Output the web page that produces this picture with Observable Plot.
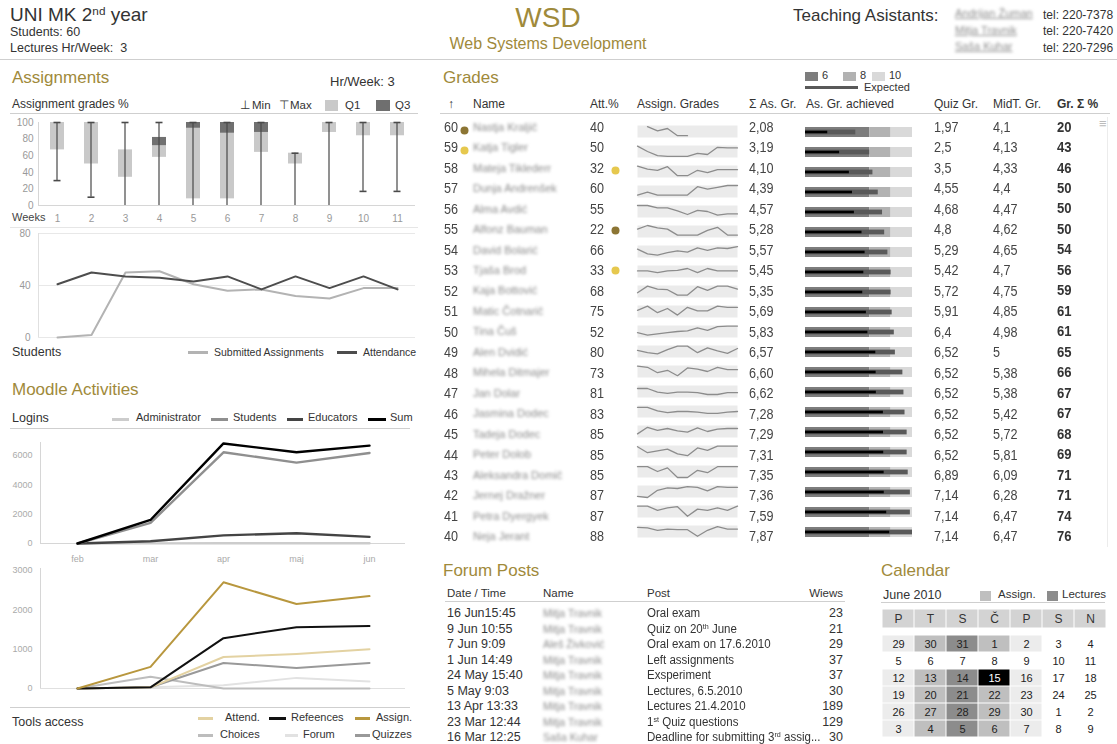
<!DOCTYPE html>
<html><head><meta charset="utf-8">
<script src="https://cdn.jsdelivr.net/npm/d3@7"></script>
<script src="https://cdn.jsdelivr.net/npm/@observablehq/plot@0.6"></script>
<style>
body{margin:0;background:#fff;}
#root{position:relative;width:1117px;height:744px;overflow:hidden;font-family:"Liberation Sans",Arial,sans-serif;color:#333;}
.a{position:absolute;white-space:nowrap;}
sup{font-size:0.62em;line-height:0;vertical-align:0.55em;}
</style></head><body><div id="root"></div><script>
// ---------------- DATA ----------------
const weeks = [1,2,3,4,5,6,7,8,9,10,11];
const q1 = [67,50,34,58,8,8,64,50,88,84,84];
const med = [100,100,67,72,93,87,88,63,100,100,100];
const q3 = [100,100,67,82,100,100,100,63,100,100,100];
const minG = [30,10,0,0,0,0,0,0,0,17,17];
const maxG = [100,100,100,100,100,100,100,63,100,100,100];
const submitted = [0,2,50,51,41,36,37,32,30,38,38];
const attendance = [41,50,47,46,43,47,37,47,38,47,37];

const months = ["feb","mar","apr","maj","jun"];
const loginAdmin = [0,10,20,20,15];
const loginStudents = [0,1400,6200,5500,6150];
const loginEducators = [0,150,550,700,450];
const loginSum = [0,1600,6800,6200,6650];
const toolAttend = [0,30,800,880,1000];
const toolRefs = [0,30,1280,1560,1590];
const toolAssign = [0,550,2700,2150,2350];
const toolChoices = [0,300,0,0,0];
const toolForum = [0,30,80,270,180];
const toolQuizzes = [0,30,650,520,650];

const ranks = [60,59,58,57,56,55,54,53,52,51,50,49,48,47,46,45,44,43,42,41,40];
const names = ["Nastja Kraljič","Katja Tigler","Mateja Tiklederr","Dunja Andrenšek","Alma Avdić","Alfonz Bauman","David Bolarić","Tjaša Brod","Kaja Bottović","Matic Čotnarič","Tina Čuš","Alen Dvidić","Mihela Ditmajer","Jan Dolar","Jasmina Dodec","Tadeja Dodec","Peter Dolob","Aleksandra Domič","Jernej Dražner","Petra Dyergyek","Neja Jerant"];
const attPct = [40,50,32,60,55,22,66,33,68,75,52,80,73,81,83,85,85,85,87,87,88];
const asSum = [2.08,3.19,4.10,4.39,4.57,5.28,5.57,5.45,5.35,5.69,5.83,6.57,6.60,6.62,7.28,7.29,7.31,7.35,7.36,7.59,7.87];
const expected = [4.7,6.0,6.3,6.8,7.2,7.4,7.7,8.0,8.0,8.1,8.3,8.4,9.1,9.2,9.3,9.5,9.5,9.6,9.8,9.8,10];
const quizGr = [1.97,2.5,3.5,4.55,4.68,4.8,5.29,5.42,5.72,5.91,6.4,6.52,6.52,6.52,6.52,6.52,6.52,6.89,7.14,7.14,7.14];
const midGr = [4.1,4.13,4.33,4.4,4.47,4.62,4.65,4.7,4.75,4.85,4.98,5,5.38,5.38,5.42,5.72,5.81,6.09,6.28,6.47,6.47];
const totalPct = [20,43,46,50,50,50,54,56,59,61,61,65,66,67,67,68,69,71,71,74,76];
const sparks = [
 [null,90,55,75,15,15],
 [95,50,15,10,10,10,35,25,85,80,80],
 [95,70,60,90,15,15,60,40,65,65,65],
 [20,45,20,20,20,20,90,70,85,100,100],
 [100,100,80,80,55,25,60,50,20,30,30],
 [70,100,80,70,20,20,20,60,85,20,20],
 [70,30,20,40,55,45,80,60,80,75,90],
 [55,55,40,55,60,75,40,75,55,55,55],
 [40,95,70,65,20,20,90,60,95,95,70],
 [60,95,40,75,20,85,55,55,95,85,85],
 [40,20,30,40,50,55,80,60,90,95,95],
 [60,40,30,65,95,95,40,80,55,35,75],
 [95,85,40,60,15,80,70,50,85,65,65],
 [75,75,45,35,45,45,40,25,25,40,40],
 [85,85,55,40,50,50,45,35,35,45,50],
 [30,85,60,75,55,45,80,50,70,75,75],
 [90,40,55,70,30,15,80,60,95,95,95],
 [90,90,50,80,0,0,60,40,90,90,90],
 [10,0,60,80,75,90,85,55,90,85,85],
 [95,95,60,80,90,10,70,60,80,60,95],
 [85,80,60,70,65,65,10,60,90,70,70]
];
const bulletBands = [{label:"6",lo:0,hi:6},{label:"8",lo:6,hi:8},{label:"10",lo:8,hi:10}];
const flagRanks = [60,59,58,55,53];
const flagPlace = ["name","name","att","att","att"];
const flagLevel = ["high","low","low","high","low"];

const forumDates = ["16 Jun15:45","9 Jun 10:55","7 Jun 9:09","1 Jun 14:49","24 May 15:40","5 May 9:03","13 Apr 13:33","23 Mar 12:44","16 Mar 12:25"];
const forumNames = ["Mitja Travnik","Mitja Travnik","Aleš Živković","Mitja Travnik","Mitja Travnik","Mitja Travnik","Mitja Travnik","Mitja Travnik","Saša Kuhar"];
const forumPosts = ["Oral exam","Quiz on 20<sup>th</sup> June","Oral exam on 17.6.2010","Left assignments","Exsperiment","Lectures, 6.5.2010","Lectures 21.4.2010","1<sup>st</sup> Quiz questions","Deadline for submitting 3<sup>rd</sup> assig..."];
const forumViews = [23,21,29,37,37,30,189,129,30];

const calHeads = ["P","T","S","Č","P","S","N"];
const calWeeks = [[29,30,31,1,2,3,4],[5,6,7,8,9,10,11],[12,13,14,15,16,17,18],[19,20,21,22,23,24,25],[26,27,28,29,30,1,2],[3,4,5,6,7,8,9]];
const calKinds = [
 ["weekday","assign","lecture","assign","weekday","free","free"],
 ["free","free","free","free","free","free","free"],
 ["weekday","assign","lecture","today","weekday","free","free"],
 ["weekday","assign","lecture","assign","weekday","free","free"],
 ["weekday","assign","lecture","assign","weekday","free","free"],
 ["weekday","assign","lecture","assign","weekday","free","free"]
];
const taNames = ["Andrijan Žuman","Mitja Travnik","Saša Kuhar"];
const taTels = ["tel: 220-7378","tel: 220-7420","tel: 220-7296"];

// ---------------- HELPERS ----------------
const root = document.getElementById("root");
const FONT = "Liberation Sans, Arial, sans-serif";
const GOLD = "#9f8a3b";
function T(html, x, cy, size, extra="") {
  const d = document.createElement("div");
  d.className = "a";
  d.style.cssText = `left:${x}px;top:${(cy - size*0.6).toFixed(1)}px;font-size:${size}px;line-height:${(size*1.2).toFixed(1)}px;${extra}`;
  d.innerHTML = html;
  root.appendChild(d);
  return d;
}
function box(x, y, w, h, color) {
  const d = document.createElement("div");
  d.className = "a";
  d.style.cssText = `left:${x}px;top:${y}px;width:${w}px;height:${h}px;background:${color};`;
  root.appendChild(d);
  return d;
}
function put(node, x, y) {
  node.style.position = "absolute";
  node.style.left = x + "px";
  node.style.top = y + "px";
  root.appendChild(node);
}
const baseStyle = {fontFamily: FONT, fontSize: "10px", color: "#999", background: "none", overflow: "visible"};
const fmt = v => String(v).replace(".", ",");
const BLUR = "filter:blur(1.6px);color:#8c8c8c;";
const NARROW = "transform:scaleX(0.9);transform-origin:0 50%;";

// ---------------- HEADER ----------------
T("UNI MK 2<sup>nd</sup> year", 10, 15, 19, "color:#333;");
T("Students: 60", 10, 32, 12.5);
T("Lectures Hr/Week:&nbsp; 3", 10, 48, 12.5);
T("WSD", 548, 18, 28, `transform:translateX(-50%);color:${GOLD};`);
T("Web Systems Development", 548, 44, 16, `transform:translateX(-50%);color:${GOLD};`);
T("Teaching Asistants:", 793, 16, 17);
taNames.forEach((n,i) => T(n, 955, 14 + i*16.5, 11, BLUR + "text-decoration:underline;"));
taTels.forEach((t,i) => T(t, 1043, 15 + i*16.5, 12));
box(0, 59, 1117, 1, "#cfcfcf");

// ---------------- ASSIGNMENTS ----------------
T("Assignments", 12, 78, 17, `color:${GOLD};`);
T("Hr/Week: 3", 330, 82, 13);
T("Assignment grades %", 12, 104, 12);
T("⊥", 240, 106, 11.5); T("Min", 252, 106, 11.5);
T("⊤", 279, 106, 11.5); T("Max", 290, 106, 11.5);
box(325, 100, 13, 11, "#c9c9c9"); T("Q1", 345, 106, 11.5);
box(376, 100, 14, 11, "#6f6f6f"); T("Q3", 395, 106, 11.5);
box(10, 113, 408, 1, "#cfcfcf");

const boxData = weeks.map((w,i) => ({w, q1:q1[i], med:med[i], q3:q3[i], min:minG[i], max:maxG[i]}));
put(Plot.plot({
  width: 420, height: 110, marginLeft: 38, marginRight: 5, marginTop: 7, marginBottom: 20,
  style: baseStyle,
  x: {type: "band", domain: weeks, padding: 0, tickSize: 0, tickPadding: 9, label: null},
  y: {domain: [0,100], ticks: [0,20,40,60,80,100], tickSize: 0, tickPadding: 5, label: null},
  marks: [
    Plot.ruleY([0], {stroke: "#d6d6d6"}),
    Plot.barY(boxData, {x: "w", y1: "q1", y2: "med", fill: "#c9c9c9", insetLeft: 10, insetRight: 10}),
    Plot.barY(boxData, {x: "w", y1: "med", y2: "q3", fill: "#707070", insetLeft: 10, insetRight: 10}),
    Plot.barY(boxData, {x: "w", y1: "min", y2: "max", fill: "#4a4a4a", insetLeft: 16.4, insetRight: 16.4}),
    Plot.tickY(boxData.filter(d => d.min > 0), {x: "w", y: "min", stroke: "#4a4a4a", strokeWidth: 1.6, insetLeft: 13.5, insetRight: 13.5}),
    Plot.tickY(boxData, {x: "w", y: "max", stroke: "#4a4a4a", strokeWidth: 1.6, insetLeft: 13.5, insetRight: 13.5})
  ]
}), 0, 115);
box(38, 122, 1, 83, "#d6d6d6");
T("Weeks", 12, 218, 11, "color:#444;");

// Students chart
const stData = weeks.flatMap((w,i) => [{w, v: submitted[i], s: "Submitted Assignments"}, {w, v: attendance[i], s: "Attendance"}]);
put(Plot.plot({
  width: 420, height: 120, marginLeft: 38, marginRight: 5, marginTop: 8, marginBottom: 8,
  style: baseStyle,
  x: {type: "point", domain: weeks, padding: 0.5, axis: null},
  y: {domain: [0,80], ticks: [0,40,80], tickSize: 0, tickPadding: 8, label: null},
  color: {domain: ["Submitted Assignments","Attendance"], range: ["#b3b3b3","#4d4d4d"]},
  marks: [
    Plot.ruleY([0,40,80], {stroke: "#e8e8e8"}),
    Plot.line(stData, {x: "w", y: "v", z: "s", stroke: "s", strokeWidth: 2})
  ]
}), 0, 225);
box(38, 233, 1, 104, "#e0e0e0");
box(10, 227, 408, 1, "#e6e6e6");
T("Students", 12, 352, 12.5);
box(188, 351, 20, 2.5, "#b3b3b3"); T("Submitted Assignments", 214, 352, 10.5);
box(337, 351, 20, 2.5, "#4d4d4d"); T("Attendance", 363, 352, 10.5);

// ---------------- MOODLE ----------------
T("Moodle Activities", 12, 390, 17, `color:${GOLD};`);
T("Logins", 12, 418, 12.5);
box(112, 418, 17, 2.5, "#cccccc"); T("Administrator", 136, 418, 11);
box(211, 418, 17, 2.5, "#8f8f8f"); T("Students", 233, 418, 11);
box(287, 418, 16, 2.5, "#444"); T("Educators", 308, 418, 11);
box(368, 418, 18, 2.5, "#000"); T("Sum", 390, 418, 11);
box(10, 428, 400, 1, "#cfcfcf");

const loginSeries = ["Administrator","Educators","Students","Sum"];
const loginVals = [loginAdmin, loginEducators, loginStudents, loginSum];
const loginData = loginSeries.flatMap((s,k) => months.map((m,i) => ({m, s, v: loginVals[k][i]})));
put(Plot.plot({
  width: 410, height: 135, marginLeft: 40, marginRight: 5, marginTop: 8, marginBottom: 24,
  style: {...baseStyle, fontSize: "9px", color: "#aaa"},
  x: {type: "point", domain: months, padding: 0.5, tickSize: 0, tickPadding: 12, label: null},
  y: {domain: [0,7000], ticks: [0,2000,4000,6000], tickFormat: "d", tickSize: 0, tickPadding: 8, label: null},
  color: {domain: loginSeries, range: ["#cccccc","#444444","#8f8f8f","#000000"]},
  marks: [
    Plot.ruleY([0], {stroke: "#d6d6d6"}),
    Plot.line(loginData, {x: "m", y: "v", z: "s", stroke: "s", strokeWidth: 2.4})
  ]
}), 0, 432);
box(40, 442, 1, 101, "#d6d6d6");

const toolSeries = ["Forum","Choices","Quizzes","Attend.","Refeences","Assign."];
const toolVals = [toolForum, toolChoices, toolQuizzes, toolAttend, toolRefs, toolAssign];
const toolData = toolSeries.flatMap((s,k) => months.map((m,i) => ({m, s, v: toolVals[k][i]})));
const toolColors = ["#e2e2e2","#bdbdbd","#999999","#e3d2a2","#111111","#b8973e"];
put(Plot.plot({
  width: 410, height: 130, marginLeft: 40, marginRight: 5, marginTop: 5, marginBottom: 7,
  style: {...baseStyle, fontSize: "9px", color: "#aaa"},
  x: {type: "point", domain: months, padding: 0.5, axis: null},
  y: {domain: [0,3000], ticks: [0,1000,2000,3000], tickFormat: "d", tickSize: 0, tickPadding: 8, label: null},
  color: {domain: toolSeries, range: toolColors},
  marks: [
    Plot.ruleY([0], {stroke: "#e0e0e0"}),
    Plot.line(toolData, {x: "m", y: "v", z: "s", stroke: "s", strokeWidth: 2})
  ]
}), 0, 565);
box(40, 568, 1, 120, "#d6d6d6");
box(10, 707, 400, 1, "#cfcfcf");
T("Tools access", 12, 722, 12.5);
box(198, 717, 15, 2.5, toolColors[3]); T("Attend.", 225, 718, 11);
box(269, 717, 17, 2.5, toolColors[4]); T("Refeences", 291, 718, 11);
box(355, 717, 15, 2.5, toolColors[5]); T("Assign.", 376, 718, 11);
box(198, 734, 15, 2.5, toolColors[1]); T("Choices", 220, 735, 11);
box(285, 734, 13, 2.5, toolColors[0]); T("Forum", 303, 735, 11);
box(355, 734, 15, 2.5, toolColors[2]); T("Quizzes", 372, 735, 11);

// ---------------- GRADES ----------------
T("Grades", 443, 78, 17, `color:${GOLD};`);
box(805, 72, 13, 9, "#7d7d7d"); T("6", 822, 76, 11);
box(843, 72, 13, 9, "#b2b2b2"); T("8", 860, 76, 11);
box(872, 72, 13, 9, "#d9d9d9"); T("10", 889, 76, 11);
box(805, 86, 53, 3, "#595959"); T("Expected", 864, 88, 11);
const heads = [["↑",448],["Name",473],["Att.%",590],["Assign. Grades",637],["Σ As. Gr.",749],["As. Gr. achieved",806],["Quiz Gr.",934],["MidT. Gr.",993]];
heads.forEach(([h,x]) => T(h, x, 104, 12));
T("Gr. Σ %", 1057, 104, 12, "font-weight:bold;");
box(440, 113, 670, 1, "#cfcfcf");
box(1107, 117, 1, 430, "#ececec");
T("≡", 1099, 124, 13, "color:#bbb;");

const ROW = 430 / 21;
ranks.forEach((r,i) => {
  const cy = 117 + ROW*i + ROW/2;
  T(String(r), 444, cy, 14, "color:#444;" + NARROW);
  T(names[i], 473, cy, 11, BLUR);
  T(String(attPct[i]), 590, cy, 14, "color:#444;" + NARROW);
  T(asSum[i].toFixed(2).replace(".", ","), 749, cy, 14, "color:#444;" + NARROW);
  T(fmt(quizGr[i]), 934, cy, 14, "color:#444;" + NARROW);
  T(fmt(midGr[i]), 993, cy, 14, "color:#444;" + NARROW);
  T(String(totalPct[i]), 1057, cy, 14.5, "font-weight:bold;color:#333;" + NARROW);
});

// status dots
const flags = flagRanks.map((r,i) => ({rank: r, place: flagPlace[i], level: flagLevel[i]}));
put(Plot.plot({
  width: 200, height: 430, margin: 0, style: baseStyle,
  x: {type: "point", domain: ["name","att"], range: [24,175], padding: 0, axis: null},
  y: {type: "point", domain: ranks, padding: 0.5, axis: null},
  color: {domain: ["high","low"], range: ["#8c7534","#e6c84e"]},
  marks: [Plot.dot(flags, {x: "place", y: "rank", fill: "level", r: 4})]
}), 440, 115);

// sparklines
const sparkRows = ranks.flatMap((r,i) => sparks[i].map((v,j) => ({rank: r, w: j+1, v})));
put(Plot.plot({
  width: 100, height: 430, margin: 0, style: baseStyle,
  facet: {data: sparkRows, y: "rank", marginTop: 0, marginBottom: 0, marginLeft: 0, marginRight: 0},
  fy: {domain: ranks, paddingInner: 0.38, paddingOuter: 0.19, axis: null},
  x: {domain: [1,11], axis: null},
  y: {domain: [0,100], axis: null},
  marks: [
    Plot.frame({fill: "#ebebeb", stroke: "none"}),
    Plot.line(sparkRows, {x: "w", y: "v", stroke: "#8c8c8c", strokeWidth: 1.3})
  ]
}), 637, 116);

// bullets
const bandRows = ranks.flatMap(r => bulletBands.map(b => ({rank: r, lo: b.lo, hi: b.hi, label: b.label})));
const gradeRows = ranks.map((r,i) => ({rank: r, sum: asSum[i], exp: expected[i]}));
put(Plot.plot({
  width: 107, height: 430, margin: 0, style: baseStyle,
  x: {domain: [0,10], axis: null},
  y: {type: "band", domain: ranks, paddingInner: 0.5, paddingOuter: 0.25, axis: null},
  color: {domain: bulletBands.map(b => b.label), range: ["#7d7d7d","#b2b2b2","#d9d9d9"]},
  marks: [
    Plot.barX(bandRows, {y: "rank", x1: "lo", x2: "hi", fill: "label"}),
    Plot.barX(gradeRows, {y: "rank", x1: d => 0, x2: "exp", fill: "#595959", insetTop: 2.6, insetBottom: 2.6}),
    Plot.barX(gradeRows, {y: "rank", x1: d => 0, x2: "sum", fill: "#000", insetTop: 3.7, insetBottom: 3.7})
  ]
}), 805, 117);

// ---------------- FORUM ----------------
T("Forum Posts", 443, 571, 17, `color:${GOLD};`);
T("Date / Time", 447, 594, 11.5);
T("Name", 543, 594, 11.5);
T("Post", 647, 594, 11.5);
T("Wiews", 843, 594, 11.5, "transform:translateX(-100%);");
box(445, 601, 400, 1, "#cfcfcf");
forumDates.forEach((d,i) => {
  const cy = 613.5 + i*15.5;
  T(d, 447, cy, 12.5);
  T(forumNames[i], 543, cy, 10.5, BLUR);
  T(forumPosts[i], 647, cy, 12, "transform:scaleX(0.96);transform-origin:0 50%;");
  T(String(forumViews[i]), 843, cy, 12.5, "transform:translateX(-100%);");
});

// ---------------- CALENDAR ----------------
T("Calendar", 881, 571, 17, `color:${GOLD};`);
T("June 2010", 883, 595, 12.5);
box(980, 591, 11, 10, "#bfbfbf"); T("Assign.", 998, 595, 11.5);
box(1047, 591, 11, 10, "#8c8c8c"); T("Lectures", 1062, 595, 11.5);
box(881, 602, 224, 1, "#cfcfcf");

const idx = [0,1,2,3,4,5,6];
const headData = idx.map(c => ({c, label: calHeads[c]}));
put(Plot.plot({
  width: 228, height: 19, margin: 0, style: {...baseStyle, fontSize: "12px", color: "#333"},
  x: {type: "band", domain: idx, padding: 0, axis: null},
  marks: [
    Plot.cell(headData, {x: "c", fill: "#d3d3d3", inset: 0.5}),
    Plot.text(headData, {x: "c", text: "label", fill: "#333", fontSize: 12})
  ]
}), 880, 609);

const calCells = calWeeks.flatMap((row,r) => row.map((day,c) => ({r, c, day, kind: calKinds[r][c]})));
put(Plot.plot({
  width: 228, height: 106, margin: 0, style: {...baseStyle, fontSize: "11px", color: "#222"},
  x: {type: "band", domain: idx, padding: 0, axis: null},
  y: {type: "band", domain: [0,1,2,3,4,5], padding: 0, axis: null},
  color: {domain: ["weekday","assign","lecture","today","free"], range: ["#ececec","#bfbfbf","#8c8c8c","#000000","#ffffff"]},
  marks: [
    Plot.cell(calCells, {x: "c", y: "r", fill: "kind", inset: 0.5}),
    Plot.text(calCells.filter(d => d.kind !== "today"), {x: "c", y: "r", text: "day", fill: "#222", fontSize: 11}),
    Plot.text(calCells.filter(d => d.kind === "today"), {x: "c", y: "r", text: "day", fill: "#fff", fontSize: 11})
  ]
}), 880, 633);
</script></body></html>
